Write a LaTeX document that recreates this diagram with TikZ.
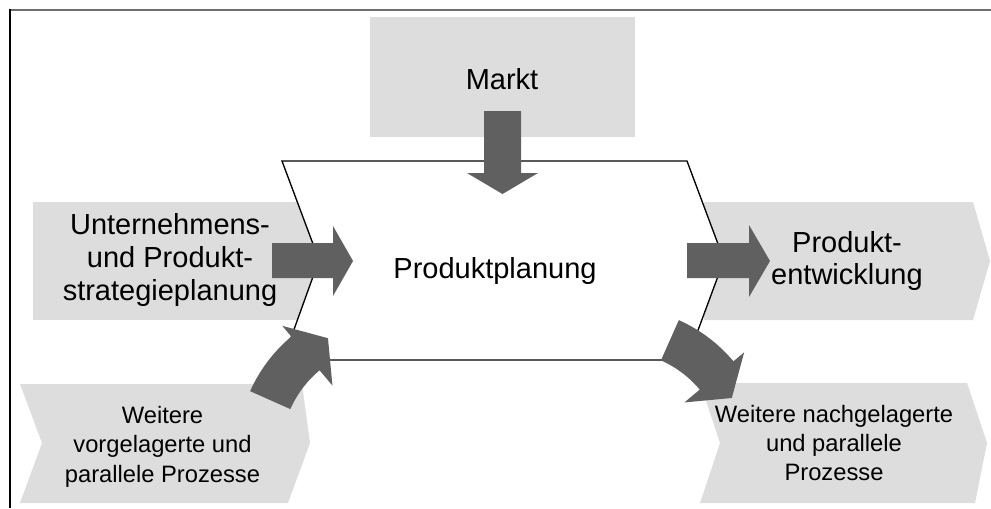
\documentclass[tikz,border=0pt]{standalone}
\usepackage{fontspec}
\setmainfont{Liberation Sans}
\definecolor{panelgray}{RGB}{221,221,221}
\definecolor{arrowgray}{RGB}{96,96,96}
\definecolor{framegray}{RGB}{110,110,110}
\begin{document}
\begin{tikzpicture}[x=0.75pt,y=-0.75pt,
  panel/.style={fill=panelgray,draw=none},
  blockarrow/.style={fill=arrowgray,draw=none},
  bigtext/.style={align=center,inner sep=0pt,font=\fontsize{21.75}{24.4}\selectfont},
  smalltext/.style={align=center,inner sep=0pt,font=\fontsize{17.8}{22.1}\selectfont}]
\useasboundingbox (0,0) rectangle (991,508);

% frame
\draw[framegray,line width=1.6pt] (10,10) -- (991,10);
\draw[black,line width=0.8pt] (10,9.4) -- (10,508);

% grey panels
\fill[panel] (370,17) rectangle (635,137);
\fill[panel] (33,202) rectangle (320,320);
\fill[panel] (704,202) -- (973,202) -- (990,261) -- (973,320) -- (704,320) -- cycle;
\fill[panel] (20,384) -- (302,384) -- (310,443) -- (288,503) -- (20,503) -- (42,443) -- cycle;
\fill[panel] (700,383) -- (967,383) -- (987,443) -- (975,503) -- (700,503) -- (720,443) -- cycle;

% planning area
\draw[fill=white,line width=1pt] (282,161) -- (687,161) -- (724,260) -- (687,360) -- (283,360) -- (319,260) -- cycle;

% straight arrows
\fill[blockarrow] (484,111) -- (521,111) -- (521,173) -- (538,173) -- (502.5,194) -- (467,173) -- (484,173) -- cycle;
\fill[blockarrow] (272,243) -- (333,243) -- (333,226) -- (353,261) -- (333,296) -- (333,278) -- (272,278) -- cycle;
\fill[blockarrow] (687,243) -- (749,243) -- (749,225) -- (770,261) -- (749,297) -- (749,278) -- (687,278) -- cycle;

% curved arrows
\begin{scope}[shift={(389,453)}]
  \fill[blockarrow] (-156:152) arc[start angle=-156,end angle=-130,radius=152]
    -- (-130:166) -- (-118:130) -- (-130:88) -- (-130:108)
    arc[start angle=-130,end angle=-156,radius=108] -- cycle;
\end{scope}
\begin{scope}[shift={(617,459)}]
  \fill[blockarrow] (-66:152) arc[start angle=-66,end angle=-40,radius=152]
    -- (-40:166) -- (-28:130) -- (-40:88) -- (-40:108)
    arc[start angle=-40,end angle=-66,radius=108] -- cycle;
\end{scope}

% labels
\node[bigtext] (markt) at (502,79) {Markt};
\node[bigtext,anchor=base] (planung) at (495,278) {Produktplanung};
\node[bigtext] (strategie) at (170,260) {Unternehmens-\\und Produkt-\\strategieplanung};
\node[bigtext] (entwicklung) at (847,261) {Produkt-\\entwicklung};
\node[smalltext] (vor) at (162.5,446.5) {Weitere\\vorgelagerte und\\parallele Prozesse};
\node[smalltext] (nach) at (834,443) {Weitere nachgelagerte\\und parallele\\Prozesse};
\end{tikzpicture}
\end{document}
